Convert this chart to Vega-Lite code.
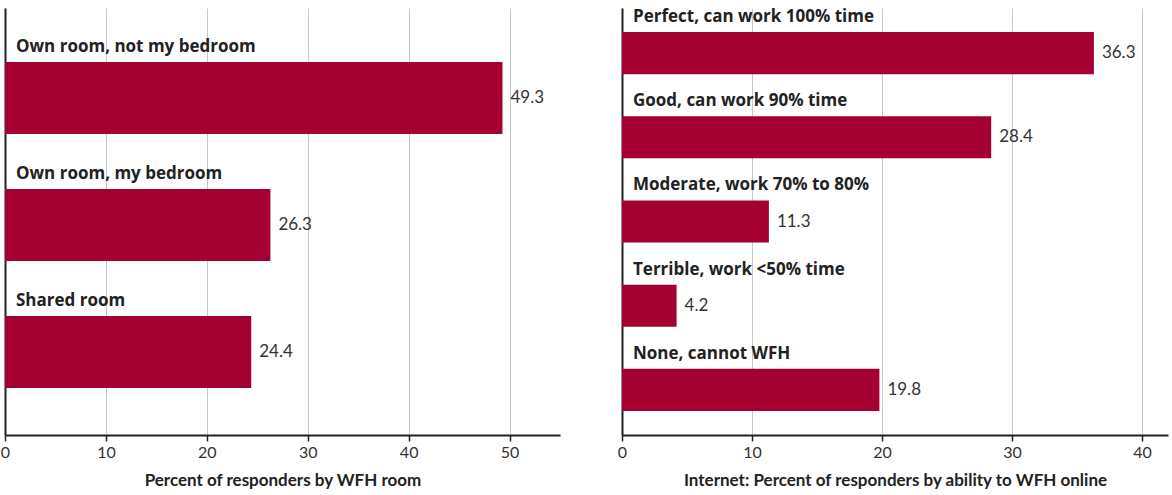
{
  "$schema": "https://vega.github.io/schema/vega-lite/v6.json",
  "padding": {"left": 0, "top": 8, "right": 2, "bottom": 4},
  "autosize": {"type": "pad"},
  "spacing": 57,
  "background": "white",
  "config": {
    "view": {"stroke": null},
    "font": "Lato",
    "axisX": {
      "grid": true,
      "gridColor": "#c8c8c8",
      "gridWidth": 1,
      "domainColor": "#222222",
      "domainWidth": 2,
      "tickColor": "#222222",
      "tickSize": 6,
      "tickWidth": 1.5,
      "labelFontSize": 16,
      "labelColor": "#333333",
      "labelPadding": 3,
      "labelFlush": false,
      "titleFontSize": 17,
      "titleFontWeight": "bold",
      "titleColor": "#222222",
      "titlePadding": 12
    }
  },
  "datasets": {
    "room": [
      {"cat": "Own room, not my bedroom", "pct": 49.3},
      {"cat": "Own room, my bedroom", "pct": 26.3},
      {"cat": "Shared room", "pct": 24.4}
    ],
    "internet": [
      {"cat": "Perfect, can work 100% time", "pct": 36.3},
      {"cat": "Good, can work 90% time", "pct": 28.4},
      {"cat": "Moderate, work 70% to 80%", "pct": 11.3},
      {"cat": "Terrible, work <50% time", "pct": 4.2},
      {"cat": "None, cannot WFH", "pct": 19.8}
    ]
  },
  "hconcat": [
    {
      "width": 555,
      "height": 427,
      "data": {"name": "room"},
      "encoding": {
        "y": {
          "field": "cat",
          "type": "nominal",
          "sort": null,
          "scale": {"paddingInner": 0.433, "paddingOuter": 0.398, "align": 0.535},
          "axis": {"labels": false, "ticks": false, "title": null, "grid": false, "domainColor": "#222222", "domainWidth": 2}
        }
      },
      "layer": [
        {
          "mark": {"type": "bar", "color": "#a50032"},
          "encoding": {
            "x": {
              "field": "pct",
              "type": "quantitative",
              "scale": {"domain": [0, 55], "nice": false},
              "axis": {"values": [0, 10, 20, 30, 40, 50], "title": "Percent of responders by WFH room"}
            }
          }
        },
        {
          "mark": {"type": "text", "align": "left", "baseline": "middle", "dx": 8, "fontSize": 17, "color": "#333333"},
          "encoding": {
            "x": {"field": "pct", "type": "quantitative"},
            "text": {"field": "pct", "type": "quantitative", "format": ".1f"}
          }
        },
        {
          "mark": {"type": "text", "align": "left", "baseline": "middle", "dx": 11, "dy": -15, "fontSize": 17, "fontWeight": "bold", "font": "Open Sans", "color": "#222222"},
          "encoding": {
            "x": {"datum": 0},
            "y": {"field": "cat", "type": "nominal", "sort": null, "bandPosition": 0},
            "text": {"field": "cat"}
          }
        }
      ]
    },
    {
      "width": 546,
      "height": 427,
      "data": {"name": "internet"},
      "encoding": {
        "y": {
          "field": "cat",
          "type": "nominal",
          "sort": null,
          "scale": {"paddingInner": 0.5, "paddingOuter": 0.286, "align": 0.5},
          "axis": {"labels": false, "ticks": false, "title": null, "grid": false, "domainColor": "#222222", "domainWidth": 2}
        }
      },
      "layer": [
        {
          "mark": {"type": "bar", "color": "#a50032"},
          "encoding": {
            "x": {
              "field": "pct",
              "type": "quantitative",
              "scale": {"domain": [0, 42], "nice": false},
              "axis": {"values": [0, 10, 20, 30, 40], "title": "Internet: Percent of responders by ability to WFH online"}
            }
          }
        },
        {
          "mark": {"type": "text", "align": "left", "baseline": "middle", "dx": 8, "fontSize": 17, "color": "#333333"},
          "encoding": {
            "x": {"field": "pct", "type": "quantitative"},
            "text": {"field": "pct", "type": "quantitative", "format": ".1f"}
          }
        },
        {
          "mark": {"type": "text", "align": "left", "baseline": "middle", "dx": 11, "dy": -15, "fontSize": 17, "fontWeight": "bold", "font": "Open Sans", "color": "#222222"},
          "encoding": {
            "x": {"datum": 0},
            "y": {"field": "cat", "type": "nominal", "sort": null, "bandPosition": 0},
            "text": {"field": "cat"}
          }
        }
      ]
    }
  ]
}
